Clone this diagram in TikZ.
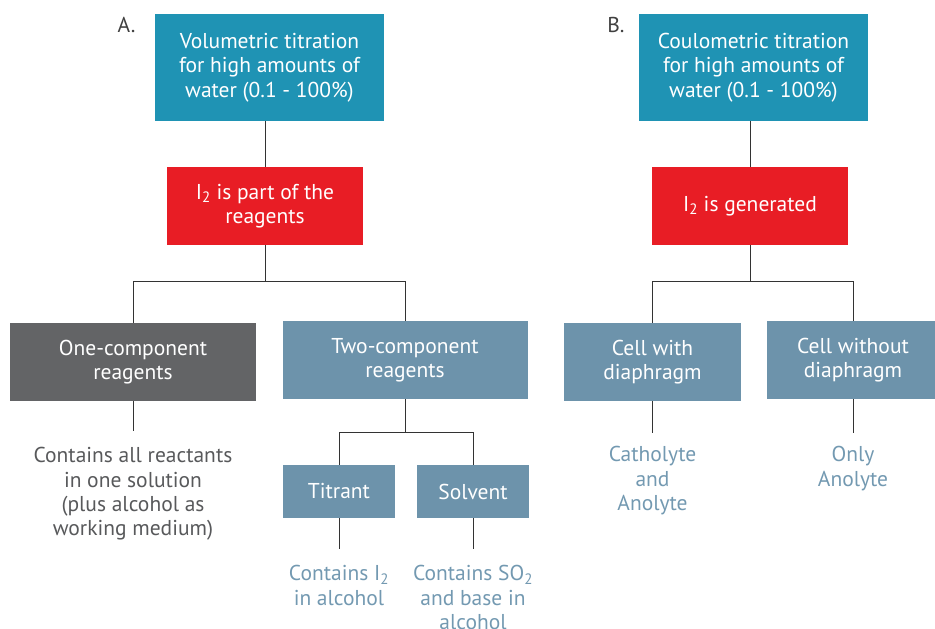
\documentclass[tikz,border=0pt]{standalone}
\usepackage{fontspec}
\setmainfont{PT Sans}
\definecolor{kfteal}{HTML}{1F93B4}
\definecolor{kfred}{HTML}{E81D25}
\definecolor{kfdark}{HTML}{636466}
\definecolor{kfsteel}{HTML}{6D93AB}
\definecolor{kftext}{HTML}{58595B}
\definecolor{kfblue}{HTML}{7399B1}
\begin{document}
\begin{tikzpicture}[x=1pt,y=-1pt,
  txt/.style={font=\fontsize{21.5}{24.3}\selectfont,align=center,inner sep=0pt},
  box/.style={txt,fill=#1,text=white},
  note/.style={txt,text=#1,anchor=north},
  link/.style={draw=black!80,line width=0.9pt}]
\useasboundingbox (0,0) rectangle (935,629);
\node[txt,text=black!75] (labA) at (126.5,25) {A.};
\node[txt,text=black!75] (labB) at (616,25) {B.};
\node[box=kfteal,minimum width=229pt,minimum height=107pt] (volA) at (269.5,67.5) {Volumetric titration\\for high amounts of\\water (0.1 - 100\%)};
\node[box=kfteal,minimum width=229pt,minimum height=107pt] (colB) at (753.5,67.5) {Coulometric titration\\for high amounts of\\water (0.1 - 100\%)};
\node[box=kfred,minimum width=196pt,minimum height=78pt] (redA) at (265,206) {I\textsubscript{2} is part of the\\reagents};
\node[box=kfred,minimum width=196pt,minimum height=78pt] (redB) at (750,206) {I\textsubscript{2} is generated};
\node[box=kfdark,minimum width=246pt,minimum height=78pt] (oneA) at (133,362) {One-component\\reagents};
\node[box=kfsteel,minimum width=245pt,minimum height=78pt] (twoA) at (405,360) {Two-component\\reagents};
\node[box=kfsteel,minimum width=112pt,minimum height=53pt] (titA) at (339,491.5) {Titrant};
\node[box=kfsteel,minimum width=112pt,minimum height=53pt] (solA) at (473,491.5) {Solvent};
\node[box=kfsteel,minimum width=177pt,minimum height=78pt] (withB) at (652.5,362) {Cell with\\diaphragm};
\node[box=kfsteel,minimum width=172pt,minimum height=78pt] (woB) at (853,360) {Cell without\\diaphragm};
\coordinate (jA) at ([yshift=-36pt]redA.south);
\coordinate (jB) at ([yshift=-36pt]redB.south);
\coordinate (jT) at ([yshift=-33pt]twoA.south);
\coordinate (eOne) at ([yshift=-30pt]oneA.south);
\coordinate (eTit) at ([yshift=-31pt]titA.south);
\coordinate (eSol) at ([yshift=-31pt]solA.south);
\coordinate (eWith) at ([yshift=-32pt]withB.south);
\coordinate (eWo) at ([yshift=-34pt]woB.south);
\draw[link] (redA.north) -- (redA.north |- volA.south);
\draw[link] (redB.north) -- (redB.north |- colB.south);
\draw[link] (redA.south) -- (jA);
\draw[link] (oneA.north) |- (jA) -| (twoA.north);
\draw[link] (redB.south) -- (jB);
\draw[link] (withB.north) |- (jB) -| (woB.north);
\draw[link] (twoA.south) -- (jT);
\draw[link] (titA.north) |- (jT) -| (solA.north);
\draw[link] (oneA.south) -- (eOne);
\draw[link] (titA.south) -- (eTit);
\draw[link] (solA.south) -- (eSol);
\draw[link] (withB.south) -- (eWith);
\draw[link] (woB.south) -- (eWo);
\node[note=kftext,yshift=-16pt] (allA) at (eOne) {Contains all reactants\\in one solution\\(plus alcohol as\\working medium)};
\node[note=kfblue,yshift=-16pt] (conI) at (eTit) {Contains I\textsubscript{2}\\in alcohol};
\node[note=kfblue,yshift=-16pt] (conS) at (eSol) {Contains SO\textsubscript{2}\\and base in\\alcohol};
\node[note=kfblue,yshift=-13pt] (cath) at (eWith) {Catholyte\\and\\Anolyte};
\node[note=kfblue,yshift=-13pt] (only) at (eWo) {Only\\Anolyte};
\end{tikzpicture}
\end{document}
